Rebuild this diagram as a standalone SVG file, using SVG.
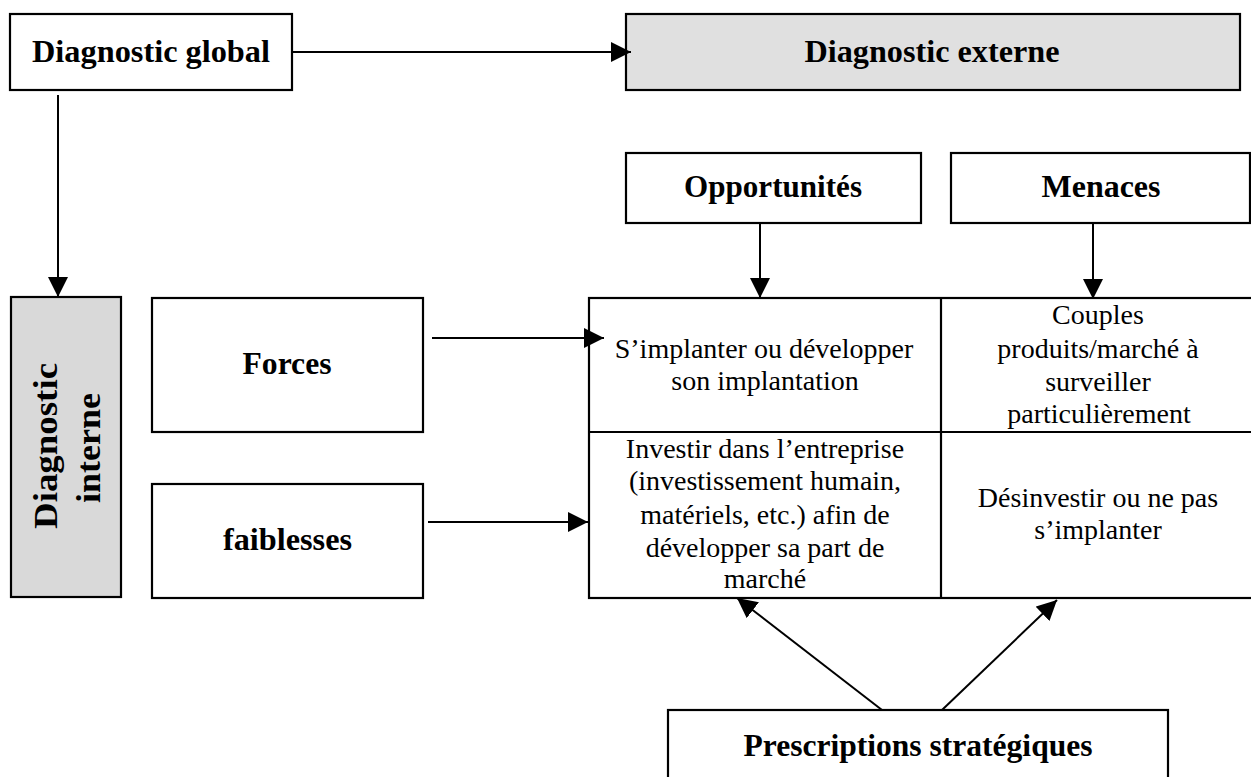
<svg xmlns="http://www.w3.org/2000/svg" width="1251" height="777" viewBox="0 0 1251 777">
<defs>
<style>
.box{fill:#fff;stroke:#000;stroke-width:2.2}
.gray1{fill:#e0e0e0}
.gray2{fill:#d9d9d9}
.b{font-family:"Liberation Serif","Times New Roman",serif;font-weight:bold;font-size:31px;fill:#000;text-anchor:middle}
.r{font-family:"Liberation Serif","Times New Roman",serif;font-size:28px;fill:#000;text-anchor:middle}
.v{font-family:"Liberation Serif","Times New Roman",serif;font-weight:bold;font-size:34px;fill:#000;text-anchor:middle}
.c{stroke:#000;stroke-width:2;fill:none;marker-end:url(#ah)}
.ml{stroke:#000;stroke-width:2.2}
</style>
<marker id="ah" markerUnits="userSpaceOnUse" markerWidth="20" markerHeight="20" refX="20" refY="10" orient="auto">
<path d="M0,0 L20,10 L0,20 Z" fill="#000"/>
</marker>
</defs>
<rect width="1251" height="777" fill="#fff"/>

<g id="diag-global">
<rect class="box" x="10" y="14" width="282" height="76"/>
<text class="b" x="151" y="62" textLength="238" lengthAdjust="spacingAndGlyphs">Diagnostic global</text>
</g>

<g id="diag-externe">
<rect class="box gray1" x="626" y="14" width="614" height="76"/>
<text class="b" x="932" y="62" textLength="255" lengthAdjust="spacingAndGlyphs">Diagnostic externe</text>
</g>

<g id="opportunites">
<rect class="box" x="626" y="153" width="295" height="70"/>
<text class="b" x="773" y="197" textLength="178" lengthAdjust="spacingAndGlyphs">Opportunités</text>
</g>

<g id="menaces">
<rect class="box" x="951" y="153" width="299" height="70"/>
<text class="b" x="1101" y="197" textLength="119" lengthAdjust="spacingAndGlyphs">Menaces</text>
</g>

<g id="diag-interne">
<rect class="box gray2" x="11" y="297" width="110" height="300"/>
<text class="v" transform="translate(57,446) rotate(-90)" textLength="166" lengthAdjust="spacingAndGlyphs">Diagnostic</text>
<text class="v" transform="translate(100,448) rotate(-90)" textLength="110" lengthAdjust="spacingAndGlyphs">interne</text>
</g>

<g id="forces">
<rect class="box" x="152" y="298" width="271" height="134"/>
<text class="b" x="287" y="374" textLength="89" lengthAdjust="spacingAndGlyphs">Forces</text>
</g>

<g id="faiblesses">
<rect class="box" x="152" y="484" width="271" height="114"/>
<text class="b" x="287.5" y="550" textLength="129" lengthAdjust="spacingAndGlyphs">faiblesses</text>
</g>

<g id="matrice">
<rect class="box" x="589" y="298" width="670" height="300"/>
<line class="ml" x1="941" y1="298" x2="941" y2="598"/>
<line class="ml" x1="589" y1="432" x2="1259" y2="432"/>
</g>

<g id="cell-so">
<text class="r" x="764" y="358">S’implanter ou développer</text>
<text class="r" x="765" y="390">son implantation</text>
</g>

<g id="cell-sm">
<text class="r" x="1098" y="324">Couples</text>
<text class="r" x="1098" y="358">produits/marché à</text>
<text class="r" x="1098" y="391">surveiller</text>
<text class="r" x="1099" y="423">particulièrement</text>
</g>

<g id="cell-wo">
<text class="r" x="765" y="458">Investir dans l’entreprise</text>
<text class="r" x="765" y="490">(investissement humain,</text>
<text class="r" x="765" y="524">matériels, etc.) afin de</text>
<text class="r" x="765" y="557">développer sa part de</text>
<text class="r" x="765" y="588">marché</text>
</g>

<g id="cell-wm">
<text class="r" x="1098" y="507">Désinvestir ou ne pas</text>
<text class="r" x="1098" y="539">s’implanter</text>
</g>

<g id="prescriptions">
<rect class="box" x="668" y="710" width="500" height="90"/>
<text class="b" x="918" y="756" textLength="349" lengthAdjust="spacingAndGlyphs">Prescriptions stratégiques</text>
</g>

<g id="connectors">
<line class="c" x1="292" y1="52" x2="631" y2="52"/>
<line class="c" x1="58" y1="95" x2="58" y2="297"/>
<line class="c" x1="760" y1="223" x2="760" y2="298"/>
<line class="c" x1="1093" y1="223" x2="1093" y2="299"/>
<line class="c" x1="432" y1="338" x2="604" y2="338"/>
<line class="c" x1="428" y1="522" x2="588" y2="522"/>
<line class="c" x1="882" y1="710" x2="737" y2="598"/>
<line class="c" x1="942" y1="710" x2="1057" y2="600"/>
</g>
</svg>
